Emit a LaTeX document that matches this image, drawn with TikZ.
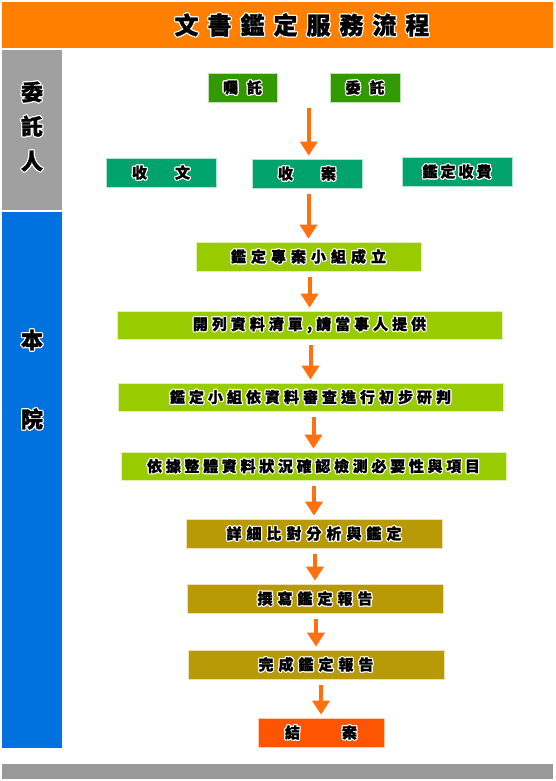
\documentclass[tikz,border=0pt]{standalone}
\usepackage{fontspec}
\newfontfamily\cjk{Noto Sans CJK TC}[BoldFeatures={FakeBold=1.2}]
\usetikzlibrary{arrows.meta,calc}
\definecolor{titleor}{HTML}{FF8000}
\definecolor{sidegray}{HTML}{A0A0A0}
\definecolor{sideblue}{HTML}{0072DF}
\definecolor{barGray}{HTML}{999999}
\definecolor{dgreen}{HTML}{339900}
\definecolor{teal}{HTML}{00A36C}
\definecolor{ygreen}{HTML}{99CC00}
\definecolor{gold}{HTML}{B89A06}
\definecolor{endred}{HTML}{FF5500}
\definecolor{arrowor}{HTML}{FF7010}
\newlength\hw
\setlength\hw{1.2pt}
\newcommand\halo[1]{\leavevmode
 \rlap{\hspace*{-\hw}\textcolor{white}{#1}}%
 \rlap{\hspace*{\hw}\textcolor{white}{#1}}%
 \rlap{\raisebox{\hw}{\textcolor{white}{#1}}}%
 \rlap{\raisebox{-\hw}{\textcolor{white}{#1}}}%
 \rlap{\hspace*{-0.75\hw}\raisebox{0.75\hw}{\textcolor{white}{#1}}}%
 \rlap{\hspace*{0.75\hw}\raisebox{0.75\hw}{\textcolor{white}{#1}}}%
 \rlap{\hspace*{-0.75\hw}\raisebox{-0.75\hw}{\textcolor{white}{#1}}}%
 \rlap{\hspace*{0.75\hw}\raisebox{-0.75\hw}{\textcolor{white}{#1}}}%
 #1}
\newlength\lsp
\setlength\lsp{4pt}
\def\ls#1{\lsA#1\relax}
\def\lsA#1{\ifx#1\relax\else #1\expandafter\lsB\fi}
\def\lsB#1{\ifx#1\relax\else\hspace{\lsp}#1\expandafter\lsB\fi}
\begin{document}
\begin{tikzpicture}[x=1pt,y=-1pt,
  box/.style={inner sep=0pt, minimum height=29pt, text=black,
    font=\cjk\bfseries\fontsize{15}{15}\selectfont, draw=white!70!#1, fill=#1, line width=0.7pt},
  side/.style={inner sep=0pt, text=black, font=\cjk\bfseries\fontsize{22}{22}\selectfont},
  arr/.style={draw=arrowor, line width=4pt, -{Triangle[width=17pt,length=14pt]}, shorten <=6pt, shorten >=3pt}]
\useasboundingbox[fill=white] (0,0) rectangle (555,781);
% frame
\fill[titleor] (2,2) rectangle (553,48);
\fill[sidegray] (2,50) rectangle (62,210);
\fill[sideblue] (2,212) rectangle (62,748);
\fill[barGray] (2,764) rectangle (553,779);
\node[inner sep=0pt, text=black, font=\cjk\bfseries\fontsize{24}{24}\selectfont] (title) at (302,25)
  {\setlength\lsp{9pt}\halo{\ls{文書鑑定服務流程}}};
\node[side] (s1) at (32,92) {\halo{委}};
\node[side] (s2) at (32,126) {\halo{託}};
\node[side] (s3) at (32,161) {\halo{人}};
\node[side] (s4) at (32,340) {\halo{本}};
\node[side] (s5) at (32,419) {\halo{院}};
% boxes
\node[box=dgreen, minimum width=69pt] (a1) at (242.5,87.5) {\setlength\lsp{9pt}\halo{\ls{囑託}}};
\node[box=dgreen, minimum width=70pt] (a2) at (365,87.5) {\setlength\lsp{9pt}\halo{\ls{委託}}};
\node[box=teal, minimum width=110pt] (b1) at (161,172.5) {\halo{收\hspace{28pt}文}};
\node[box=teal, minimum width=110pt] (b2) at (307,173.5) {\halo{收\hspace{28pt}案}};
\node[box=teal, minimum width=110pt] (b3) at (457,171.5) {\setlength\lsp{3pt}\halo{\ls{鑑定收費}}};
\node[box=ygreen, minimum width=225pt] (c1) at (308.5,256.5) {\setlength\lsp{5pt}\halo{\ls{鑑定專案小組成立}}};
\node[box=ygreen, minimum width=385pt, minimum height=28pt] (c2) at (309.5,325) {\halo{\ls{開列資料清單,請當事人提供}}};
\node[box=ygreen, minimum width=385pt, minimum height=28pt] (c3) at (310.5,397) {\halo{\ls{鑑定小組依資料審查進行初步研判}}};
\node[box=ygreen, minimum width=385pt, minimum height=28pt] (c4) at (313.5,466) {\setlength\lsp{3.7pt}\halo{\ls{依據整體資料狀況確認檢測必要性與項目}}};
\node[box=gold, minimum width=256pt] (d1) at (314,533.5) {\setlength\lsp{5pt}\halo{\ls{詳細比對分析與鑑定}}};
\node[box=gold, minimum width=256pt] (d2) at (315,598.5) {\setlength\lsp{5pt}\halo{\ls{撰寫鑑定報告}}};
\node[box=gold, minimum width=256pt] (d3) at (316,664.5) {\setlength\lsp{5pt}\halo{\ls{完成鑑定報告}}};
\node[box=endred, minimum width=126pt] (e) at (321,732.5) {\halo{結\hspace{42pt}案}};
% arrows
\coordinate (top) at ($(a1.south)!0.5!(a2.south)+(5,0)$);
\draw[arr] (top) -- (top |- b2.north);
\draw[arr] (b2.south -| c1.north) -- (c1.north);
\draw[arr] (c1.south -| c2.north) -- (c2.north);
\draw[arr] (c2.south -| c3.north) -- (c3.north);
\draw[arr] (c3.south -| c4.north) -- (c4.north);
\draw[arr] (c4.south -| d1.north) -- (d1.north);
\draw[arr] (d1.south -| d2.north) -- (d2.north);
\draw[arr] (d2.south -| d3.north) -- (d3.north);
\draw[arr] (d3.south -| e.north) -- (e.north);
\end{tikzpicture}
\end{document}
